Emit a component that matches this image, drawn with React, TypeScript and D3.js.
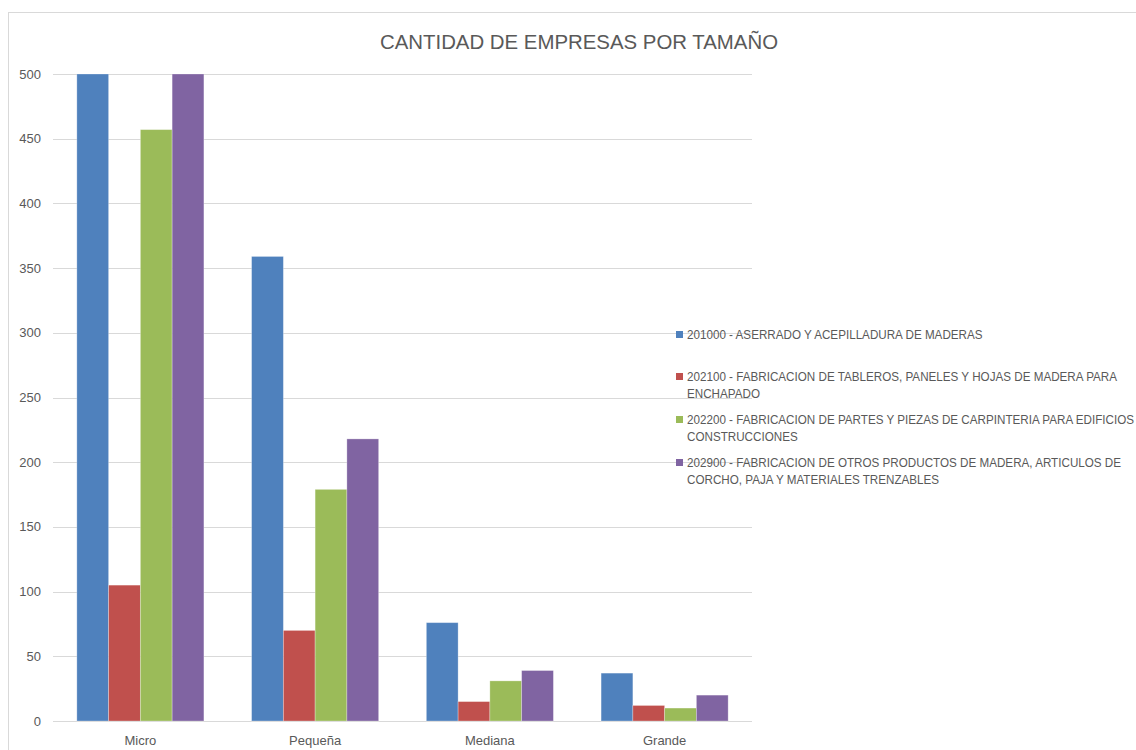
import React from "react";
import * as d3 from "d3";

const categories = ["Micro", "Pequeña", "Mediana", "Grande"];
const seriesNames = [
  "201000 - ASERRADO Y ACEPILLADURA DE MADERAS",
  "202100 - FABRICACION DE TABLEROS, PANELES Y HOJAS DE MADERA PARA ENCHAPADO",
  "202200 - FABRICACION DE PARTES Y PIEZAS DE CARPINTERIA PARA EDIFICIOS Y CONSTRUCCIONES",
  "202900 - FABRICACION DE OTROS PRODUCTOS DE MADERA, ARTICULOS DE CORCHO, PAJA Y MATERIALES TRENZABLES",
];
const legendLines = [
  ["201000 - ASERRADO Y ACEPILLADURA DE MADERAS"],
  ["202100 - FABRICACION DE TABLEROS, PANELES Y HOJAS DE MADERA PARA", "ENCHAPADO"],
  ["202200 - FABRICACION DE PARTES Y PIEZAS DE CARPINTERIA PARA EDIFICIOS Y", "CONSTRUCCIONES"],
  ["202900 - FABRICACION DE OTROS PRODUCTOS DE MADERA, ARTICULOS DE", "CORCHO, PAJA Y MATERIALES TRENZABLES"],
];
const s201000 = [500, 359, 76, 37];
const s202100 = [105, 70, 15, 12];
const s202200 = [457, 179, 31, 10];
const s202900 = [500, 218, 39, 20];
const seriesValues = [s201000, s202100, s202200, s202900];
const colors = ["#4F81BD", "#C0504D", "#9BBB59", "#8064A2"];
const yTicks = [0, 50, 100, 150, 200, 250, 300, 350, 400, 450, 500];
const title = "CANTIDAD DE EMPRESAS POR TAMAÑO";

const FONT = "'Liberation Sans', Arial, sans-serif";

export default function App() {
  const W = 1136, H = 750;
  const left = 53, right = 752, top = 74, bottom = 721;
  const x = d3.scaleBand<string>().domain(categories).range([left, right]).paddingInner(0.273).paddingOuter(0.1365);
  const xs = d3.scaleBand<number>().domain(d3.range(seriesNames.length)).range([0, x.bandwidth()]).padding(0);
  const y = d3.scaleLinear().domain([0, 500]).range([bottom, top]);
  const legendY = [335, 377, 420, 463];

  return (
    <svg width={W} height={H} style={{ position: "absolute", left: 0, top: 0, background: "#fff" }} fontFamily={FONT}>
      <rect x={8.5} y={12.5} width={W} height={H} fill="#fff" stroke="#d9d9d9" strokeWidth={1} />
      <text x={579} y={49} textAnchor="middle" fontSize={20.4} fill="#595959">{title}</text>
      {yTicks.map((t) => (
        <g key={t}>
          <line x1={left} x2={right} y1={Math.round(y(t)) + 0.5} y2={Math.round(y(t)) + 0.5} stroke="#d9d9d9" strokeWidth={1} />
          <text x={41} y={y(t) + 4.5} textAnchor="end" fontSize={13} fill="#595959">{t}</text>
        </g>
      ))}
      {categories.map((c, ci) => (
        <g key={c}>
          {seriesValues.map((vals, si) => (
            <rect key={si} x={(x(c) as number) + (xs(si) as number)} y={y(vals[ci])} width={xs.bandwidth()} height={bottom - y(vals[ci])} fill={colors[si]} stroke="#fff" strokeOpacity={0.35} strokeWidth={0.8} />
          ))}
          <text x={(x(c) as number) + x.bandwidth() / 2} y={745} textAnchor="middle" fontSize={13} fill="#595959">{c}</text>
        </g>
      ))}
      {legendLines.map((lines, i) => (
        <g key={i}>
          <rect x={676} y={legendY[i] - 4} width={7} height={7} fill={colors[i]} />
          <g transform={`translate(687,0) scale(0.933,1)`}>
            {lines.map((ln, li) => (
              <text key={li} x={0} y={legendY[i] + 4.5 + li * 17} fontSize={12.5} fill="#595959">{ln}</text>
            ))}
          </g>
        </g>
      ))}
    </svg>
  );
}
